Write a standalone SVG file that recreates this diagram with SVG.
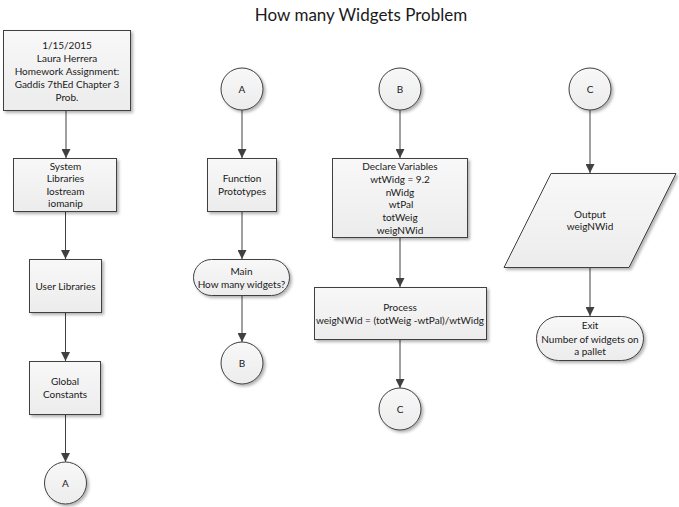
<svg xmlns="http://www.w3.org/2000/svg" width="679" height="507" viewBox="0 0 679 507">
<defs>
<linearGradient id="fillg" x1="0" y1="0" x2="0" y2="1">
<stop offset="0" stop-color="#f8f8f8"/>
<stop offset="1" stop-color="#ececec"/>
</linearGradient>
<filter id="sh" x="-10%" y="-10%" width="125%" height="130%">
<feDropShadow dx="2" dy="2" stdDeviation="1.5" flood-color="#000" flood-opacity="0.3"/>
</filter>
<marker id="arr" viewBox="0 0 10 10" markerUnits="userSpaceOnUse" markerWidth="9" markerHeight="9" refX="10" refY="5" orient="auto">
<path d="M0,0 L10,5 L0,10 z" fill="#404040"/>
</marker>
</defs>
<style>
.s{fill:url(#fillg);stroke:#404040;stroke-width:1;filter:url(#sh)}
.t{font-family:Lato,"Open Sans",sans-serif;font-size:10px;fill:#1a1a1a;text-anchor:middle}
.c{stroke:#404040;stroke-width:1;fill:none;marker-end:url(#arr)}
.title{font-family:Lato,"Open Sans",sans-serif;font-size:17px;fill:#1a1a1a;text-anchor:middle}
</style>
<rect width="679" height="507" fill="#ffffff"/>
<text class="title" x="361" y="21">How many Widgets Problem</text>

<g id="connectors">
<line class="c" x1="66" y1="110" x2="66" y2="158"/>
<line class="c" x1="65.5" y1="212" x2="65.5" y2="259"/>
<line class="c" x1="65.5" y1="313" x2="65.5" y2="361"/>
<line class="c" x1="65.5" y1="414" x2="65.5" y2="462"/>
<line class="c" x1="242" y1="110" x2="242" y2="158"/>
<line class="c" x1="242" y1="212" x2="242" y2="259"/>
<line class="c" x1="242" y1="296" x2="242" y2="342"/>
<line class="c" x1="400" y1="110" x2="400" y2="158"/>
<line class="c" x1="400" y1="238" x2="400" y2="287"/>
<line class="c" x1="400" y1="340" x2="400" y2="388"/>
<line class="c" x1="590" y1="110" x2="590" y2="173"/>
<line class="c" x1="590" y1="268" x2="590" y2="316"/>
</g>

<g id="header">
<rect class="s" x="3.5" y="30.5" width="127" height="80"/>
<text class="t" x="67" y="49">1/15/2015</text>
<text class="t" x="67" y="62">Laura Herrera</text>
<text class="t" x="67" y="75">Homework Assignment:</text>
<text class="t" x="67" y="88">Gaddis 7thEd Chapter 3</text>
<text class="t" x="67" y="101">Prob.</text>
</g>
<g id="syslib">
<rect class="s" x="13.5" y="158.5" width="103" height="53"/>
<text class="t" x="65.5" y="170">System</text>
<text class="t" x="65.5" y="182">Libraries</text>
<text class="t" x="65.5" y="195">Iostream</text>
<text class="t" x="65.5" y="207">iomanip</text>
</g>
<g id="userlib">
<rect class="s" x="29.5" y="259.5" width="72" height="53"/>
<text class="t" x="65.5" y="290">User Libraries</text>
</g>
<g id="globals">
<rect class="s" x="29.5" y="361.5" width="71" height="53"/>
<text class="t" x="65" y="385">Global</text>
<text class="t" x="65" y="398">Constants</text>
</g>
<g id="connA1">
<circle class="s" cx="65.5" cy="483" r="21"/>
<text class="t" x="65.5" y="487">A</text>
</g>

<g id="connA2">
<circle class="s" cx="242" cy="89" r="21"/>
<text class="t" x="242" y="93">A</text>
</g>
<g id="protos">
<rect class="s" x="207.5" y="158.5" width="69" height="53"/>
<text class="t" x="242" y="182">Function</text>
<text class="t" x="242" y="195">Prototypes</text>
</g>
<g id="main">
<rect class="s" x="193.5" y="259.5" width="96" height="36" rx="18" ry="18"/>
<text class="t" x="241.5" y="275">Main</text>
<text class="t" x="241.5" y="288">How many widgets?</text>
</g>
<g id="connB1">
<circle class="s" cx="242" cy="363" r="21"/>
<text class="t" x="242" y="367">B</text>
</g>

<g id="connB2">
<circle class="s" cx="400" cy="89" r="21"/>
<text class="t" x="400" y="93">B</text>
</g>
<g id="declare">
<rect class="s" x="332.5" y="158.5" width="135" height="79"/>
<text class="t" x="400" y="170">Declare Variables</text>
<text class="t" x="400" y="183">wtWidg = 9.2</text>
<text class="t" x="400" y="196">nWidg</text>
<text class="t" x="401" y="208">wtPal</text>
<text class="t" x="400" y="221">totWeig</text>
<text class="t" x="400" y="234">weigNWid</text>
</g>
<g id="process">
<rect class="s" x="314.5" y="287.5" width="172" height="52"/>
<text class="t" x="400" y="311">Process</text>
<text class="t" x="400" y="324">weigNWid = (totWeig -wtPal)/wtWidg</text>
</g>
<g id="connC1">
<circle class="s" cx="400" cy="409" r="21"/>
<text class="t" x="400" y="413">C</text>
</g>

<g id="connC2">
<circle class="s" cx="590" cy="89" r="21"/>
<text class="t" x="590" y="93">C</text>
</g>
<g id="output">
<polygon class="s" points="551,173.5 676,173.5 629,267.5 504,267.5"/>
<text class="t" x="590" y="218">Output</text>
<text class="t" x="590" y="230">weigNWid</text>
</g>
<g id="exit">
<rect class="s" x="536.5" y="316.5" width="107" height="44" rx="22" ry="22"/>
<text class="t" x="590" y="329">Exit</text>
<text class="t" x="590" y="343">Number of widgets on</text>
<text class="t" x="590" y="355">a pallet</text>
</g>
</svg>
